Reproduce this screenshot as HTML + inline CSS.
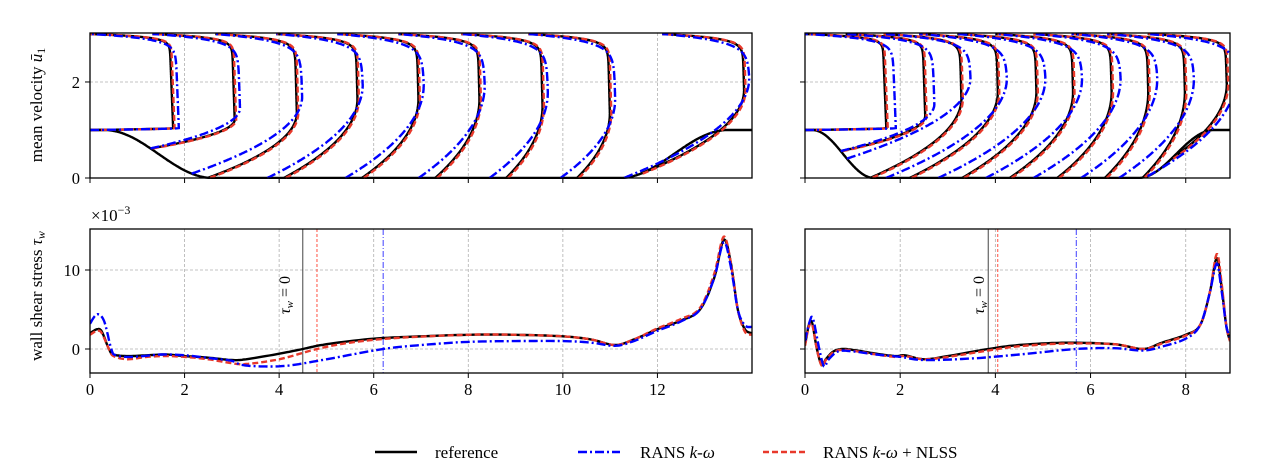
<!DOCTYPE html>
<html><head><meta charset="utf-8">
<style>
html,body{margin:0;padding:0;background:#fff;}
svg{display:block;font-family:"Liberation Serif",serif;}
</style></head>
<body>
<svg id="s" width="1268" height="474" viewBox="0 0 1268 474" xmlns="http://www.w3.org/2000/svg">
<defs>
<clipPath id="cTL"><rect x="90" y="32" width="662" height="147"/></clipPath>
<clipPath id="cTR"><rect x="805" y="32" width="425" height="147"/></clipPath>
<clipPath id="cBL"><rect x="90" y="229" width="662" height="144"/></clipPath>
<clipPath id="cBR"><rect x="805" y="229" width="425" height="144"/></clipPath>
</defs>
<g id="g"></g>
<text x="42" y="105" font-size="17" transform="rotate(-90 42 105)" text-anchor="middle">mean velocity <tspan font-style="italic">ū</tspan><tspan font-size="12" dy="3">1</tspan></text>
<text x="42" y="296" font-size="17" transform="rotate(-90 42 296)" text-anchor="middle">wall shear stress <tspan font-style="italic">τ</tspan><tspan font-size="12" dy="3" font-style="italic">w</tspan></text>
<text x="91" y="221" font-size="17">×10<tspan font-size="12" dy="-7">−3</tspan></text>
<text x="290" y="295" font-size="16" transform="rotate(-90 290 295)" text-anchor="middle"><tspan font-style="italic">τ</tspan><tspan font-size="11" font-style="italic" dy="3">w</tspan><tspan dy="-3"> = 0</tspan></text>
<text x="984" y="295" font-size="16" transform="rotate(-90 984 295)" text-anchor="middle"><tspan font-style="italic">τ</tspan><tspan font-size="11" font-style="italic" dy="3">w</tspan><tspan dy="-3"> = 0</tspan></text>
<line x1="375" y1="452" x2="417" y2="452" stroke="#000" stroke-width="2.4"/>
<text x="435" y="458" font-size="17">reference</text>
<line x1="578" y1="452" x2="620" y2="452" stroke="#0000ff" stroke-width="2.4" stroke-dasharray="9,3,2,3"/>
<text x="640" y="458" font-size="17">RANS <tspan font-style="italic">k</tspan>-<tspan font-style="italic">ω</tspan></text>
<line x1="763" y1="452" x2="805" y2="452" stroke="#e8392b" stroke-width="2.4" stroke-dasharray="6,3"/>
<text x="823" y="458" font-size="17">RANS <tspan font-style="italic">k</tspan>-<tspan font-style="italic">ω</tspan> + NLSS</text>
</svg>
<script>
var NS="http://www.w3.org/2000/svg",G=document.getElementById("g");
function el(t,a,p){var e=document.createElementNS(NS,t);for(var k in a)e.setAttribute(k,a[k]);(p||G).appendChild(e);return e;}
function txt(x,y,s,anchor){var e=el("text",{x:x,y:y,"font-size":16.5,"text-anchor":anchor||"middle"});e.textContent=s;}
var P={TL:{x0:90,x1:752,y0:178,y1:33,dx:[0,14],dy:[0,3.02]},TR:{x0:805,x1:1230,y0:178,y1:33,dx:[0,8.93],dy:[0,3.02]},
BL:{x0:90,x1:752,y0:373,y1:229,dx:[0,14],dy:[-3.04,15.19]},BR:{x0:805,x1:1230,y0:373,y1:229,dx:[0,8.93],dy:[-3.04,15.19]}};
function X(p,v){return p.x0+(v-p.dx[0])/(p.dx[1]-p.dx[0])*(p.x1-p.x0);}
function Y(p,v){return p.y0-(v-p.dy[0])/(p.dy[1]-p.dy[0])*(p.y0-p.y1);}
function grid(p,xs,ys){
 xs.forEach(function(v){var x=X(p,v);el("line",{x1:x,y1:p.y1,x2:x,y2:p.y0,stroke:"#b0b0b0","stroke-width":0.8,"stroke-dasharray":"3,2"});});
 ys.forEach(function(v){var y=Y(p,v);el("line",{x1:p.x0,y1:y,x2:p.x1,y2:y,stroke:"#b0b0b0","stroke-width":0.8,"stroke-dasharray":"3,2"});});
}
function frame(p,xs,ys,xl,yl){
 el("rect",{x:p.x0,y:p.y1,width:p.x1-p.x0,height:p.y0-p.y1,fill:"none",stroke:"#000","stroke-width":1.3});
 xs.forEach(function(v){var x=X(p,v);el("line",{x1:x,y1:p.y0,x2:x,y2:p.y0+5,stroke:"#000","stroke-width":1});if(xl)txt(x,p.y0+22,String(v));});
 ys.forEach(function(v){var y=Y(p,v);el("line",{x1:p.x0-5,y1:y,x2:p.x0,y2:y,stroke:"#000","stroke-width":1});if(yl)txt(p.x0-10,y+6,String(v),"end");});
}
var ST={k:{stroke:"#000","stroke-width":2.4,fill:"none"},b:{stroke:"#0000ff","stroke-width":2.4,fill:"none","stroke-dasharray":"9,3,2,3"},r:{stroke:"#e8392b","stroke-width":2.4,fill:"none","stroke-dasharray":"6,3"}};
function path(p,pts,st,clip){var d="";pts.forEach(function(q,i){d+=(i?"L":"M")+X(p,q[0]).toFixed(1)+","+Y(p,q[1]).toFixed(1);});var a=Object.assign({d:d,"clip-path":"url(#"+clip+")"},st);el("path",a);}
function hillL(x){if(x<0.3)return 1;if(x<2.6)return .5*(1+Math.cos(Math.PI*(x-.3)/2.3));if(x<11.2)return 0;if(x<13.5)return .5*(1-Math.cos(Math.PI*(x-11.2)/2.3));return 1;}
function hillR(x){if(x<0.15)return 1;if(x<1.45)return .5*(1+Math.cos(Math.PI*(x-.15)/1.3));if(x<7.0)return 0;if(x<8.6)return .5*(1-Math.cos(Math.PI*(x-7)/1.6));return 1;}
function prof(xs,xb,xp,e1,yw,tb){var pts=[];for(var i=0;i<=300;i++){var eta=i/300,y=yw+eta*(3-yw);var m=Math.min(eta/e1,1);var h=1-(1-m)*(1-m);var raw=xb+(xp-xb)*h+0.08*(1-eta)*(eta>e1?1:eta/e1);var t=1-Math.exp(-(1-eta)/tb);pts.push([xs+(raw-xs)*t,y]);}return pts;}
function spline(pts){var o=[];for(var i=0;i<pts.length-1;i++){var p0=pts[Math.max(i-1,0)],p1=pts[i],p2=pts[i+1],p3=pts[Math.min(i+2,pts.length-1)];for(var j=0;j<10;j++){var t=j/10,t2=t*t,t3=t2*t;var f=function(a,b,c,d){return .5*(2*b+(-a+c)*t+(2*a-5*b+4*c-d)*t2+(-a+3*b-3*c+d)*t3);};o.push([f(p0[0],p1[0],p2[0],p3[0]),f(p0[1],p1[1],p2[1],p3[1])]);}}o.push(pts[pts.length-1]);return o;}
grid(P.TL,[2,4,6,8,10,12],[2]);grid(P.TR,[2,4,6,8],[2]);grid(P.BL,[2,4,6,8,10,12],[0,10]);grid(P.BR,[2,4,6,8],[0,10]);
var hl=[];for(var x=0;x<=14;x+=0.02)hl.push([x,hillL(x)]);path(P.TL,hl,ST.k,"cTL");
var L=[[0,0,1.68,.02,1],[1.32,1.28,3.0,.25,-1],[2.65,2.5,4.33,.45,-1],[3.94,4.1,5.62,.55,-1],[5.23,5.75,6.91,.55,-1],[6.52,7.3,8.2,.55,-1],[7.85,8.8,9.53,.5,-1],[9.27,10.3,10.95,.45,-1],[12.1,11.65,13.8,.6,-1]];
function draw(p,list,hill,clip,bs,ps){list.forEach(function(a,i){var yw=a[4]>=0?a[4]:hill(a[1]);
 var sh=(i==0||i==1)?0:bs;
 path(p,prof(a[0],a[1],a[2],a[3],yw,0.03),ST.k,clip);
 path(p,prof(a[0],a[1]+0.04,a[2]+0.03,a[3],yw,0.03),ST.r,clip);
 path(p,prof(a[0],a[1]-sh,a[2]+ps,Math.min(a[3]+(i?0.1:0),0.8),(i==0?1:hill(a[1]-sh)),0.05),ST.b,clip);
 });}
draw(P.TL,L,hillL,"cTL",0.35,0.12);
var hr=[];for(var x=0;x<=8.93;x+=0.02)hr.push([x,hillR(x)]);path(P.TR,hr,ST.k,"cTR");
var R=[[0,0,1.63,.02,1],[0.85,0.75,2.47,.3,-1],[1.65,1.38,3.25,.55,-1],[2.4,2.2,4.02,.6,-1],[3.2,3.3,4.83,.6,-1],[4.0,4.3,5.6,.6,-1],[4.8,5.3,6.41,.6,-1],[5.6,6.3,7.18,.6,-1],[6.35,7.1,7.95,.6,-1],[7.2,7.7,8.83,.6,-1]];
draw(P.TR,R,hillR,"cTR",0.5,0.2);
var tk=[[0,2],[0.15,2.5],[0.25,2.2],[0.4,0],[0.5,-0.7],[0.8,-0.9],[1.2,-0.8],[1.6,-0.7],[2.0,-0.9],[2.5,-1.1],[3.0,-1.4],[3.3,-1.3],[4.0,-0.6],[4.5,0],[5.0,0.6],[6.0,1.3],[7.0,1.6],[8.0,1.8],[9.0,1.8],[10.0,1.6],[10.6,1.2],[11.1,0.5],[11.5,1.2],[12.0,2.5],[12.5,3.6],[12.9,5],[13.2,9],[13.4,13.8],[13.55,11],[13.7,5],[13.85,2.5],[14,2]];
var tb=[[0,3.2],[0.15,4.4],[0.3,3.5],[0.45,0],[0.55,-0.8],[0.9,-1.0],[1.5,-0.7],[2.0,-0.8],[2.6,-1.2],[3.0,-1.5],[3.2,-2.0],[3.6,-2.2],[4.2,-2.1],[5.0,-1.3],[6.2,0],[7.0,0.5],[8.0,0.9],[9.0,1.0],[10.0,1.0],[10.6,0.8],[11.1,0.4],[11.5,1.0],[12.0,2.3],[12.5,3.5],[12.9,5],[13.2,9],[13.4,13.5],[13.55,10.5],[13.7,5],[13.85,3],[14,2.8]];
var tr=[[0,1.8],[0.15,2.3],[0.25,2],[0.4,0],[0.5,-0.9],[0.8,-1.3],[1.2,-1.0],[1.6,-0.9],[2.0,-1.0],[2.5,-1.3],[3.0,-1.8],[3.3,-1.9],[4.0,-1.3],[4.8,0],[5.5,0.8],[6.5,1.4],[8.0,1.8],[9.0,1.8],[10,1.6],[10.6,1.2],[11.1,0.5],[11.5,1.2],[12,2.6],[12.5,3.8],[12.9,5.2],[13.2,9.5],[13.4,14.2],[13.55,11],[13.7,5],[13.85,2.2],[14,1.8]];
function vl(p,v,c,da){var x=X(p,v);var a={x1:x,y1:p.y1,x2:x,y2:p.y0,stroke:c,"stroke-width":1};if(da)a["stroke-dasharray"]=da;el("line",a);}
vl(P.BL,4.5,"#444");vl(P.BL,4.8,"#ff5040","3,2");vl(P.BL,6.2,"#4040ff","6,2,1,2");
path(P.BL,spline(tk),ST.k,"cBL");path(P.BL,spline(tr),ST.r,"cBL");path(P.BL,spline(tb),ST.b,"cBL");
var rk=[[0,0.5],[0.08,3],[0.15,3.3],[0.25,0],[0.35,-2],[0.45,-1.2],[0.6,-0.3],[0.8,0],[1.1,-0.2],[1.5,-0.6],[1.9,-0.9],[2.1,-0.8],[2.5,-1.3],[3.0,-0.9],[3.85,0],[4.5,0.5],[5.5,0.8],[6.5,0.6],[7.1,0],[7.5,0.8],[8.0,1.8],[8.3,3],[8.5,7],[8.65,11.5],[8.75,8],[8.85,3],[8.93,1]];
var rb=[[0,1],[0.1,3.5],[0.17,3.8],[0.3,0],[0.4,-2.2],[0.5,-1.3],[0.7,-0.3],[1,-0.3],[1.5,-0.7],[2,-1.0],[2.5,-1.4],[3.5,-1.2],[4.5,-0.7],[5.7,0],[6.5,0.1],[7.1,-0.2],[7.5,0.3],[8.0,1.3],[8.3,3],[8.5,7],[8.65,10.8],[8.75,7.5],[8.85,3],[8.93,1.5]];
var rr=[[0,0.4],[0.08,2.8],[0.15,3.1],[0.25,0],[0.35,-2.1],[0.45,-1.3],[0.6,-0.4],[0.8,-0.1],[1.1,-0.3],[1.5,-0.7],[1.9,-1.0],[2.1,-0.9],[2.5,-1.3],[3.0,-1.0],[4.05,0],[4.6,0.4],[5.5,0.7],[6.5,0.6],[7.1,0],[7.5,0.7],[8.0,1.7],[8.3,3],[8.5,7],[8.65,12],[8.75,8.5],[8.85,3],[8.93,1]];
vl(P.BR,3.85,"#444");vl(P.BR,4.05,"#ff5040","3,2");vl(P.BR,5.7,"#4040ff","6,2,1,2");
path(P.BR,spline(rk),ST.k,"cBR");path(P.BR,spline(rr),ST.r,"cBR");path(P.BR,spline(rb),ST.b,"cBR");
frame(P.TL,[0,2,4,6,8,10,12],[0,2],false,true);frame(P.TR,[0,2,4,6,8],[0,2],false,false);
frame(P.BL,[0,2,4,6,8,10,12],[0,10],true,true);frame(P.BR,[0,2,4,6,8],[0,10],true,false);
</script>
</body></html>
